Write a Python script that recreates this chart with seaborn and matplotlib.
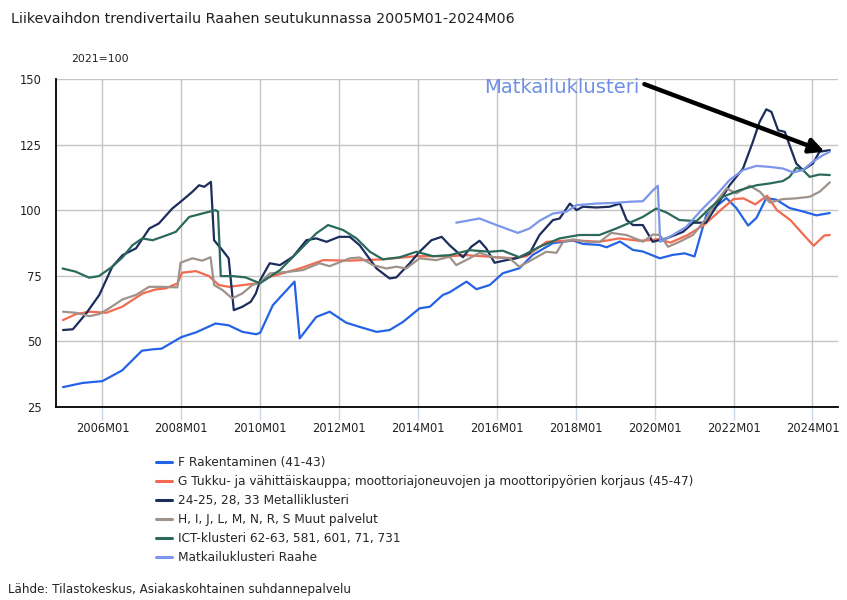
import matplotlib
matplotlib.use("Agg")
import matplotlib.pyplot as plt
import seaborn as sns
import pandas as pd

# ---- data (decimal year, index value 2021=100) ----
F_x = [2005.0, 2005.5, 2006.0, 2006.5, 2007.0, 2007.25, 2007.5, 2008.0, 2008.37, 2008.87, 2009.2, 2009.55,
       2009.9, 2010.0, 2010.32, 2010.87, 2011.0, 2011.42, 2011.76, 2012.18, 2012.52, 2012.95, 2013.28, 2013.62,
       2014.04, 2014.3, 2014.63, 2014.8, 2015.23, 2015.48, 2015.82, 2016.15, 2016.57, 2016.91, 2017.42, 2017.93,
       2018.18, 2018.6, 2018.78, 2019.12, 2019.45, 2019.7, 2020.13, 2020.46, 2020.76, 2021.01, 2021.31, 2021.56,
       2021.82, 2022.07, 2022.37, 2022.58, 2022.83, 2023.08, 2023.42, 2023.76, 2024.1, 2024.44]
F_y = [32.4, 34.0, 34.7, 38.8, 46.3, 46.8, 47.1, 51.5, 53.3, 56.7, 56.0, 53.5,
       52.6, 53.2, 63.7, 72.7, 51.0, 59.2, 61.2, 57.0, 55.4, 53.5, 54.2, 57.3,
       62.5, 63.1, 67.6, 68.6, 72.7, 69.8, 71.4, 75.9, 77.8, 82.9, 87.4, 88.4,
       87.1, 86.7, 85.8, 88.0, 84.8, 84.2, 81.6, 82.9, 83.5, 82.3, 98.2, 101.4,
       104.6, 100.8, 94.1, 97.0, 104.6, 104.0, 100.8, 99.5, 98.0, 98.9]

G_x = [2005.0, 2005.33, 2005.67, 2006.1, 2006.5, 2007.02, 2007.35, 2007.6, 2007.9, 2008.02, 2008.37, 2008.7,
       2008.95, 2009.2, 2009.9, 2010.24, 2011.0, 2011.6, 2012.27, 2013.1, 2013.96, 2014.8, 2015.22, 2015.82,
       2016.42, 2016.75, 2017.26, 2017.93, 2018.6, 2019.1, 2019.6, 2019.85, 2020.1, 2020.4, 2020.84, 2021.25,
       2021.67, 2022.0, 2022.25, 2022.55, 2022.85, 2023.1, 2023.44, 2023.78, 2024.03, 2024.3, 2024.44]
G_y = [58.0, 60.3, 61.2, 60.8, 63.1, 68.2, 69.7, 70.1, 72.0, 76.1, 76.7, 74.8,
       71.4, 70.7, 72.0, 74.5, 77.7, 80.9, 80.7, 81.2, 82.4, 82.4, 82.8, 82.2,
       81.6, 82.4, 87.9, 88.5, 87.9, 89.2, 88.3, 88.5, 88.9, 87.6, 90.5, 94.3,
       100.0, 104.2, 104.5, 102.2, 105.5, 100.0, 96.2, 90.5, 86.4, 90.3, 90.5]

M_x = [2005.0, 2005.25, 2005.59, 2005.92, 2006.25, 2006.51, 2006.85, 2007.19, 2007.43, 2007.77, 2008.03, 2008.28,
       2008.45, 2008.58, 2008.75, 2008.83, 2009.04, 2009.2, 2009.33, 2009.55, 2009.76, 2009.89, 2010.0, 2010.24,
       2010.5, 2010.83, 2011.17, 2011.42, 2011.68, 2012.0, 2012.27, 2012.52, 2012.95, 2013.28, 2013.45, 2013.79,
       2014.04, 2014.34, 2014.6, 2014.8, 2015.14, 2015.35, 2015.56, 2015.73, 2015.94, 2016.24, 2016.49, 2016.83,
       2017.08, 2017.42, 2017.59, 2017.85, 2018.02, 2018.18, 2018.52, 2018.86, 2019.12, 2019.29, 2019.45, 2019.7,
       2019.95, 2020.3, 2020.72, 2020.98, 2021.3, 2021.64, 2021.9, 2022.24, 2022.49, 2022.66, 2022.83, 2022.96,
       2023.13, 2023.3, 2023.42, 2023.59, 2023.76, 2024.01, 2024.18, 2024.44]
M_y = [54.2, 54.5, 60.6, 67.6, 78.4, 82.8, 85.4, 93.0, 94.9, 100.6, 103.8, 107.0,
       109.5, 108.9, 110.8, 88.5, 84.7, 81.6, 61.8, 63.1, 65.0, 68.2, 73.3, 79.7,
       79.0, 82.2, 88.5, 89.2, 87.9, 89.8, 89.8, 86.6, 77.7, 73.9, 74.3, 79.7,
       84.1, 88.5, 89.8, 86.6, 82.0, 86.0, 88.3, 85.4, 79.9, 80.9, 81.6, 83.5,
       90.5, 96.2, 96.8, 102.5, 100.0, 101.3, 101.0, 101.3, 102.5, 96.2, 94.3, 94.3,
       87.9, 89.2, 91.7, 95.2, 95.2, 103.2, 109.5, 115.9, 126.1, 133.7, 138.5, 137.5,
       130.5, 129.9, 124.8, 117.8, 115.3, 117.8, 122.3, 122.9]

H_x = [2005.0, 2005.33, 2005.67, 2005.92, 2006.17, 2006.51, 2006.85, 2007.18, 2007.52, 2007.9, 2007.98, 2008.28,
       2008.53, 2008.74, 2008.83, 2009.04, 2009.29, 2009.55, 2009.8, 2010.0, 2010.24, 2010.75, 2011.08, 2011.5,
       2011.76, 2012.27, 2012.52, 2012.86, 2013.2, 2013.45, 2013.7, 2014.04, 2014.46, 2014.8, 2014.97, 2015.31,
       2015.56, 2015.9, 2016.32, 2016.57, 2016.91, 2017.25, 2017.51, 2017.68, 2017.93, 2018.27, 2018.61, 2018.9,
       2019.28, 2019.62, 2019.7, 2019.96, 2020.13, 2020.34, 2020.63, 2020.97, 2021.31, 2021.56, 2021.82, 2022.07,
       2022.41, 2022.67, 2022.92, 2023.25, 2023.59, 2023.93, 2024.18, 2024.44]
H_y = [61.2, 60.8, 59.5, 60.3, 62.5, 65.9, 67.6, 70.7, 70.7, 70.5, 79.9, 81.6,
       80.7, 82.0, 71.4, 69.5, 66.3, 68.2, 71.4, 72.3, 75.8, 76.5, 77.1, 79.7,
       78.6, 81.6, 81.9, 79.0, 77.7, 78.4, 77.7, 81.6, 80.9, 82.2, 79.0, 81.6,
       83.7, 82.0, 81.6, 78.4, 81.2, 84.1, 83.7, 87.9, 88.8, 87.9, 87.9, 91.3,
       90.5, 88.5, 87.9, 90.7, 90.5, 86.0, 87.9, 90.5, 96.8, 103.2, 108.3, 106.4,
       109.3, 107.0, 102.9, 104.2, 104.5, 105.1, 107.0, 110.6]

I_x = [2004.99, 2005.32, 2005.66, 2005.91, 2006.25, 2006.51, 2006.76, 2007.01, 2007.27, 2007.52, 2007.86, 2008.2,
       2008.53, 2008.87, 2008.93, 2009.0, 2009.3, 2009.63, 2009.89, 2009.99, 2010.5, 2011.0, 2011.42, 2011.72,
       2012.1, 2012.44, 2012.78, 2013.11, 2013.54, 2013.96, 2014.38, 2014.8, 2015.31, 2015.82, 2016.15, 2016.57,
       2017.08, 2017.59, 2018.09, 2018.6, 2019.03, 2019.37, 2019.7, 2020.04, 2020.3, 2020.63, 2021.06, 2021.39,
       2021.73, 2022.15, 2022.58, 2022.92, 2023.25, 2023.42, 2023.59, 2023.76, 2023.93, 2024.18, 2024.44]
I_y = [77.7, 76.5, 74.2, 74.8, 78.4, 82.0, 86.6, 89.2, 88.5, 89.8, 91.7, 97.4,
       98.7, 100.0, 99.4, 74.8, 74.8, 74.3, 72.7, 72.0, 77.1, 84.7, 91.1, 94.3,
       92.4, 89.2, 84.1, 81.2, 82.0, 84.1, 82.4, 82.8, 84.7, 84.1, 84.5, 82.0,
       86.0, 89.2, 90.5, 90.5, 93.0, 95.2, 97.4, 100.6, 99.1, 96.2, 95.8, 100.6,
       105.1, 107.6, 109.5, 110.2, 111.1, 112.7, 116.2, 115.3, 112.7, 113.6, 113.4]

K_x = [2014.97, 2015.56, 2015.99, 2016.53, 2016.83, 2017.08, 2017.42, 2017.76, 2018.02, 2018.52, 2019.03, 2019.37,
       2019.7, 2019.96, 2020.08, 2020.14, 2020.46, 2020.8, 2021.22, 2021.56, 2021.9, 2022.24, 2022.58, 2022.92,
       2023.25, 2023.51, 2023.76, 2024.01, 2024.27, 2024.44]
K_y = [95.2, 96.8, 94.3, 91.3, 93.0, 95.9, 98.7, 99.4, 101.9, 102.5, 102.8, 103.2,
       103.4, 107.6, 109.3, 87.9, 90.5, 93.6, 100.6, 105.7, 111.5, 115.3, 116.9, 116.5,
       115.9, 114.4, 115.3, 118.5, 121.0, 122.3]

series_names = ["F Rakentaminen (41-43)",
                "G Tukku- ja vähittäiskauppa; moottoriajoneuvojen ja moottoripyörien korjaus (45-47)",
                "24-25, 28, 33 Metalliklusteri",
                "H, I, J, L, M, N, R, S Muut palvelut",
                "ICT-klusteri 62-63, 581, 601, 71, 731",
                "Matkailuklusteri Raahe"]
series_x = [F_x, G_x, M_x, H_x, I_x, K_x]
series_y = [F_y, G_y, M_y, H_y, I_y, K_y]
colors = ["#2563e6", "#f26a4f", "#1c2d5c", "#9f928b", "#2b6a5b", "#7b96ea"]

tick_years = [2006, 2008, 2010, 2012, 2014, 2016, 2018, 2020, 2022, 2024]
tick_labels = [f"{y}M01" for y in tick_years]
y_ticks = [25, 50, 75, 100, 125, 150]

# ---- plot ----
sns.set_theme(style="white")
plt.rcParams["font.family"] = ["DejaVu Sans"]

fig = plt.figure(figsize=(8.47, 6.0), dpi=100)
ax = fig.add_axes([0.066, 0.3225, 0.923, 0.5455])

frames = []
for name, xs, ys in zip(series_names, series_x, series_y):
    frames.append(pd.DataFrame({"aika": xs, "arvo": ys, "sarja": name}))
df = pd.concat(frames, ignore_index=True)

sns.lineplot(data=df, x="aika", y="arvo", hue="sarja", hue_order=series_names,
             palette=colors, estimator=None, sort=False, linewidth=1.6, ax=ax, legend=True)

ax.set_xlim(2004.82, 2024.64)
ax.set_ylim(25, 150)
ax.set_xticks(tick_years)
ax.set_xticklabels(tick_labels, fontsize=8.3, color="#222222")
ax.set_yticks(y_ticks)
ax.set_yticklabels([str(v) for v in y_ticks], fontsize=8.3, color="#222222")
ax.set_xlabel("")
ax.set_ylabel("")
ax.grid(True, axis="both", color="#c4c4c4", linewidth=1.0)
ax.set_axisbelow(True)
for s in ["top", "right"]:
    ax.spines[s].set_visible(False)
for s in ["left", "bottom"]:
    ax.spines[s].set_color("black")
    ax.spines[s].set_linewidth(1.3)
ax.tick_params(axis="x", which="major", length=9, width=1, color="#c9d6ea", pad=2, bottom=True)
ax.tick_params(axis="y", length=0, pad=10)

handles, labels = ax.get_legend_handles_labels()
ax.get_legend().remove()
fig.legend(handles, labels, loc="upper left", bbox_to_anchor=(0.178, 0.248), frameon=False,
           fontsize=8.75, handlelength=1.35, handletextpad=0.5, labelspacing=0.5, borderaxespad=0)
for lh in fig.legends[0].get_lines():
    lh.set_linewidth(2.2)

# annotation
ax.annotate("", xy=(2024.31, 122.3), xytext=(2019.74, 148.1),
            arrowprops=dict(arrowstyle="-|>", lw=3.2, color="black", mutation_scale=22,
                            shrinkA=0, shrinkB=0))
ax.text(2015.67, 146.9, "Matkailuklusteri", color="#7090e6", fontsize=14.1,
        family=["DejaVu Sans"], ha="left", va="center")

fig.text(0.013, 0.969, "Liikevaihdon trendivertailu Raahen seutukunnassa 2005M01-2024M06",
         fontsize=10.3, ha="left", va="center", color="#222222")
fig.text(0.084, 0.902, "2021=100", fontsize=7.8, ha="left", va="center", color="#222222")
fig.text(0.0095, 0.017, "Lähde: Tilastokeskus, Asiakaskohtainen suhdannepalvelu",
         fontsize=8.6, ha="left", va="center", color="#222222")

fig.savefig("out.png", dpi=100)
